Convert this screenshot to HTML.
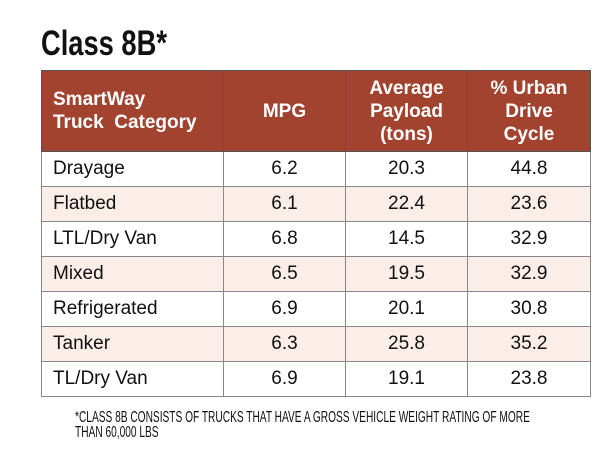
<!DOCTYPE html>
<html><head><style>
body{margin:0;width:600px;height:450px;background:#fff;position:relative;overflow:hidden;font-family:"Liberation Sans",sans-serif;}
.t{position:absolute;left:41px;top:24px;font-size:35px;font-weight:bold;transform:scaleX(0.78);transform-origin:left top;color:#111;letter-spacing:0px}
table{position:absolute;left:41px;top:70px;border-collapse:collapse;}
td,th{border:1.5px solid #888;padding:0;text-align:center;font-size:19px;color:#111}
th{background:#a1432f;color:#fff;height:80px;font-weight:bold;font-size:19px;line-height:23px;border-color:#555}
td{height:34px}
td:first-child,th:first-child{text-align:left;padding-left:11px}
tr.a td{background:#fbede7}
.f{position:absolute;left:75px;top:410px;font-size:16px;line-height:15px;transform:scaleX(0.635);transform-origin:left top;width:800px;color:#111}
</style></head><body>
<div class="t">Class 8B*</div>
<table>
<tr><th style="width:170px">SmartWay<br>Truck&nbsp; Category</th><th style="width:121px">MPG</th><th style="width:121px">Average<br>Payload<br>(tons)</th><th style="width:122px">% Urban<br>Drive<br>Cycle</th></tr>
<tr><td>Drayage</td><td>6.2</td><td>20.3</td><td>44.8</td></tr>
<tr class="a"><td>Flatbed</td><td>6.1</td><td>22.4</td><td>23.6</td></tr>
<tr><td>LTL/Dry Van</td><td>6.8</td><td>14.5</td><td>32.9</td></tr>
<tr class="a"><td>Mixed</td><td>6.5</td><td>19.5</td><td>32.9</td></tr>
<tr><td>Refrigerated</td><td>6.9</td><td>20.1</td><td>30.8</td></tr>
<tr class="a"><td>Tanker</td><td>6.3</td><td>25.8</td><td>35.2</td></tr>
<tr><td>TL/Dry Van</td><td>6.9</td><td>19.1</td><td>23.8</td></tr>
</table>
<div class="f">*CLASS 8B CONSISTS OF TRUCKS THAT HAVE A GROSS VEHICLE WEIGHT RATING OF MORE<br>THAN 60,000 LBS</div>
</body></html>
